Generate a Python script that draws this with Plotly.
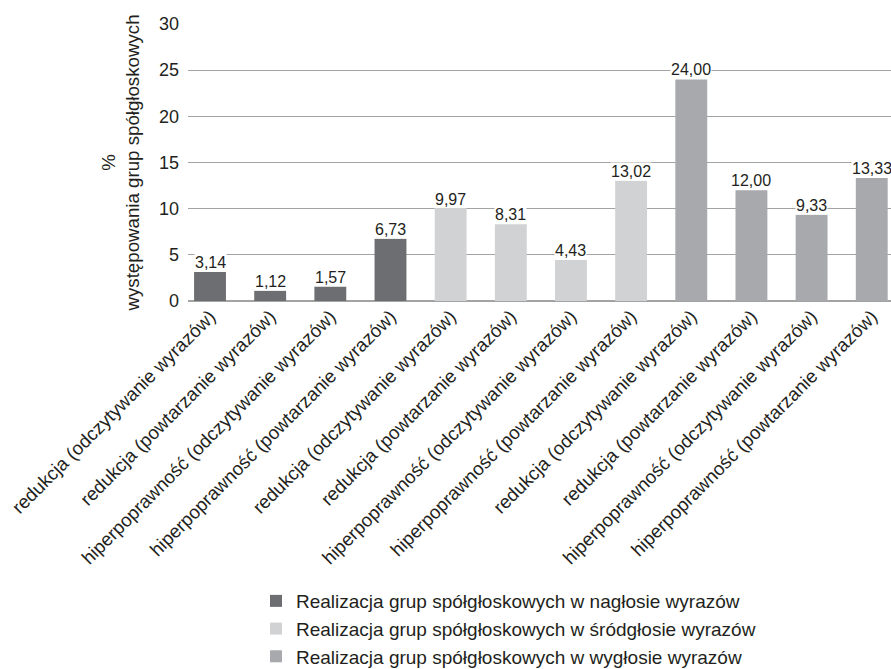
import plotly.graph_objects as go

# Category labels (x axis), one per bar, in drawing order
categories = [
    "redukcja (odczytywanie wyrazów)",
    "redukcja (powtarzanie wyrazów)",
    "hiperpoprawność (odczytywanie wyrazów)",
    "hiperpoprawność (powtarzanie wyrazów)",
    "redukcja (odczytywanie wyrazów)",
    "redukcja (powtarzanie wyrazów)",
    "hiperpoprawność (odczytywanie wyrazów)",
    "hiperpoprawność (powtarzanie wyrazów)",
    "redukcja (odczytywanie wyrazów)",
    "redukcja (powtarzanie wyrazów)",
    "hiperpoprawność (odczytywanie wyrazów)",
    "hiperpoprawność (powtarzanie wyrazów)",
]

# Series: position of the consonant cluster in the word
series_names = [
    "Realizacja grup spółgłoskowych w nagłosie wyrazów",
    "Realizacja grup spółgłoskowych w śródgłosie wyrazów",
    "Realizacja grup spółgłoskowych w wygłosie wyrazów",
]
naglos_values = [3.14, 1.12, 1.57, 6.73]
srodglos_values = [9.97, 8.31, 4.43, 13.02]
wyglos_values = [24.00, 12.00, 9.33, 13.33]

series_values = [naglos_values, srodglos_values, wyglos_values]
series_colors = ["#6d6e71", "#d1d2d4", "#a7a9ac"]

y_ticks = [0, 5, 10, 15, 20, 25, 30]

FONT = "Liberation Sans, Arial, Helvetica, sans-serif"
TEXT = "#231f20"

fig = go.Figure()
annotations = []
pos = 0
for name, vals, color in zip(series_names, series_values, series_colors):
    xs = list(range(pos, pos + len(vals)))
    fig.add_trace(go.Bar(
        x=xs, y=vals, name=name,
        marker=dict(color=color, line=dict(width=0)),
        width=0.53,
    ))
    for x, v in zip(xs, vals):
        annotations.append(dict(
            x=x, y=v, xref="x", yref="y",
            text=f"{v:.2f}".replace(".", ","),
            showarrow=False, yanchor="bottom", xanchor="center",
            bgcolor="white", borderpad=0, yshift=0,
            font=dict(family=FONT, size=16, color=TEXT),
        ))
    pos += len(vals)

fig.update_layout(
    width=891, height=669,
    margin=dict(l=188, r=0, t=24, b=368, autoexpand=False),
    paper_bgcolor="white", plot_bgcolor="white",
    barmode="overlay",
    font=dict(family=FONT, size=18, color=TEXT),
    showlegend=True,
    legend=dict(
        orientation="v",
        x=0.0967, xanchor="left",
        yref="container", y=0.13, yanchor="top",
        font=dict(family=FONT, size=19, color=TEXT),
        tracegroupgap=0,
        itemwidth=30,
    ),
    annotations=annotations,
    xaxis=dict(
        tickmode="array",
        tickvals=list(range(len(categories))),
        ticktext=categories,
        tickangle=-45,
        range=[-0.366, 11.32],
        automargin=False,
        showgrid=False, zeroline=False, showline=False,
        ticks="",
        tickfont=dict(family=FONT, size=18.7, color=TEXT),
    ),
    yaxis=dict(
        range=[0, 30],
        tickmode="array",
        tickvals=y_ticks,
        ticktext=[str(t) for t in y_ticks],
        automargin=False,
        showgrid=True, gridcolor="#a3a3a3", gridwidth=1.3,
        zeroline=True, zerolinecolor="#a3a3a3", zerolinewidth=2,
        showline=False, ticks="",
        ticklabelstandoff=8,
        tickfont=dict(family=FONT, size=18, color=TEXT),
        title=dict(
            text="%<br>występowania grup spółgłoskowych",
            font=dict(family=FONT, size=18.7, color=TEXT),
            standoff=14,
        ),
    ),
)

fig.write_html("out.html")
